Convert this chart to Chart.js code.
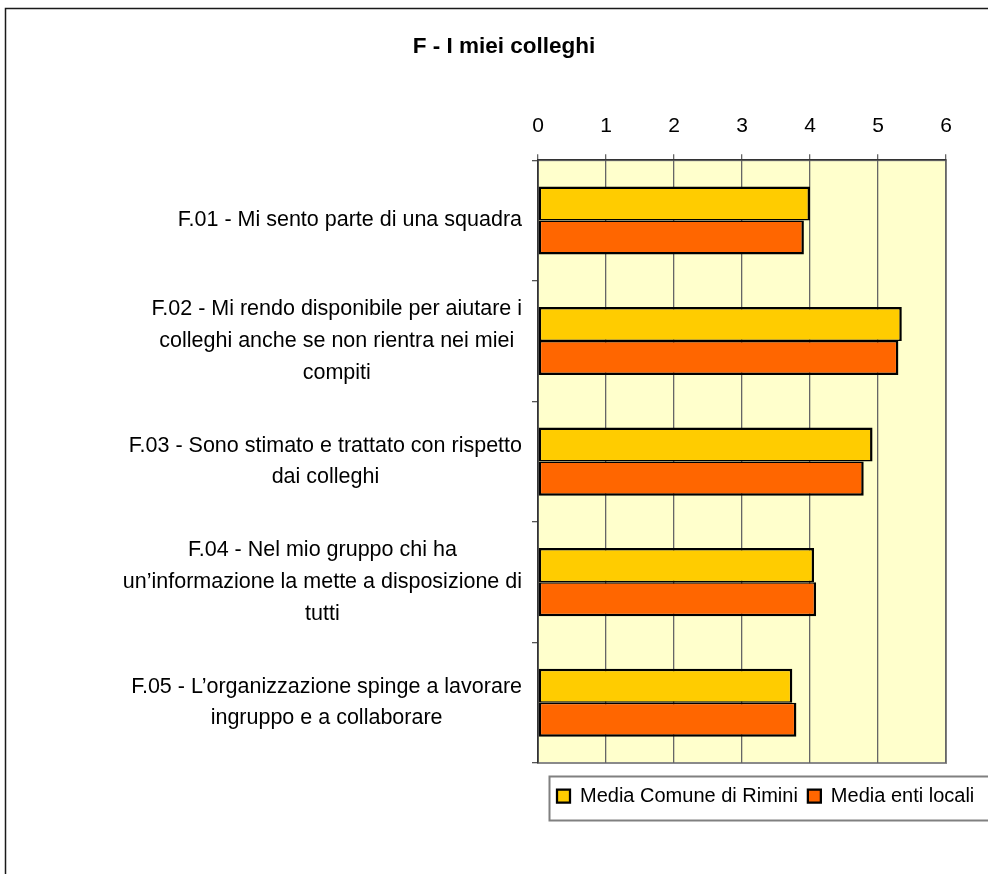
<!DOCTYPE html>
<html>
<head>
<meta charset="utf-8">
<style>
  html, body { margin: 0; padding: 0; background: #ffffff; }
  #wrap { position: relative; width: 988px; height: 874px; }
  canvas { display: block; }
</style>
<script src="https://cdn.jsdelivr.net/npm/chart.js@4/dist/chart.umd.min.js"></script>
</head>
<body>
<div id="wrap"><canvas id="c" width="988" height="874"></canvas></div>
<script>
const chartTitle = "F - I miei colleghi";
const categories = [
  ["F.01 - Mi sento parte di una squadra"],
  ["F.02 - Mi rendo disponibile per aiutare i", "colleghi anche se non rientra nei miei", "compiti"],
  ["F.03 - Sono stimato e trattato con rispetto", "dai colleghi"],
  ["F.04 - Nel mio gruppo chi ha", "un\u2019informazione la mette a disposizione di", "tutti"],
  ["F.05 - L\u2019organizzazione spinge a lavorare", "ingruppo e a collaborare"]
];
const seriesNames = ["Media Comune di Rimini", "Media enti locali"];
const mediaRimini = [4.00, 5.35, 4.92, 4.06, 3.74];
const mediaEntiLocali = [3.91, 5.30, 4.79, 4.09, 3.80];
const xTicks = [0, 1, 2, 3, 4, 5, 6];

const FONT = "'Liberation Sans', Arial, Helvetica, sans-serif";

const decorPlugin = {
  id: 'decor',
  beforeDraw(chart) {
    const ctx = chart.ctx;
    const a = chart.chartArea;
    ctx.save();
    // outer frame (extends beyond the visible page)
    ctx.strokeStyle = '#1a1a1a';
    ctx.lineWidth = 1.5;
    ctx.strokeRect(5.5, 8.5, 1200, 1200);
    // plot background
    ctx.fillStyle = '#FFFFCC';
    ctx.fillRect(a.left, a.top, a.right - a.left, a.bottom - a.top);
    ctx.strokeStyle = '#8a8a8a';
    ctx.lineWidth = 2;
    ctx.strokeRect(a.left, a.top, a.right - a.left, a.bottom - a.top);
    // legend frame
    const lg = chart.legend;
    ctx.strokeStyle = '#808080';
    ctx.lineWidth = 2;
    ctx.strokeRect(lg.left + 2.5, lg.top + 0.5, 600, 44);
    ctx.restore();

    // center each multi-line category label within its own block, right-aligned block
    const sc = chart.scales.y;
    const items = sc.getLabelItems();
    items.forEach(it => {
      if (it._adj) return;
      const lines = Array.isArray(it.label) ? it.label : [it.label];
      ctx.save();
      ctx.font = it.font.string;
      const w = Math.max(...lines.map(l => ctx.measureText(l).width));
      ctx.restore();
      const rx = it.options.translation[0];
      it.options.textAlign = 'center';
      it.options.translation = [rx - w / 2, it.options.translation[1]];
      it._adj = true;
    });
  },
  afterLayout(chart) {
    const lg = chart.legend;
    lg.left = 547; lg.right = 1300; lg.width = lg.right - lg.left;
    lg.top = 776; lg.bottom = 820; lg.height = 44;
  }
};

new Chart(document.getElementById('c'), {
  type: 'bar',
  data: {
    labels: categories,
    datasets: [
      {
        label: seriesNames[0],
        data: mediaRimini,
        backgroundColor: '#FFCC00',
        borderColor: '#000000',
        borderWidth: { top: 2.5, left: 2.5, right: 2.5, bottom: 1.5 },
        borderSkipped: false
      },
      {
        label: seriesNames[1],
        data: mediaEntiLocali,
        backgroundColor: '#FF6600',
        borderColor: '#000000',
        borderWidth: { top: 1.5, left: 2.5, right: 2.5, bottom: 2.5 },
        borderSkipped: false
      }
    ]
  },
  options: {
    indexAxis: 'y',
    responsive: false,
    animation: false,
    categoryPercentage: 0.565,
    barPercentage: 1.0,
    layout: { padding: { left: 62, right: 42, top: 0, bottom: 71 } },
    plugins: {
      title: {
        display: true,
        text: chartTitle,
        color: '#000000',
        font: { family: FONT, size: 22.5, weight: 'bold' },
        padding: { top: 33, bottom: 39 }
      },
      legend: {
        display: true,
        position: 'bottom',
        align: 'start',
        labels: {
          color: '#000000',
          font: { family: FONT, size: 20 },
          boxWidth: 13,
          boxHeight: 13,
          padding: 10
        }
      },
      tooltip: { enabled: false }
    },
    scales: {
      x: {
        position: 'top',
        min: 0,
        max: 6,
        afterBuildTicks(scale) {
          scale.ticks = xTicks.map(v => ({ value: v }));
        },
        ticks: {
          stepSize: 1,
          color: '#000000',
          font: { family: FONT, size: 21 },
          padding: 15
        },
        grid: {
          color: '#666666',
          lineWidth: 1.3,
          drawTicks: true,
          tickLength: 6
        },
        border: { display: true, color: '#333333', width: 1.5 }
      },
      y: {
        afterFit(scale) { scale.width = 476; },
        ticks: {
          color: '#000000',
          font: { family: FONT, size: 21.5, lineHeight: 1.47 },
          crossAlign: 'near',
          padding: 10,
          autoSkip: false
        },
        grid: {
          offset: true,
          drawOnChartArea: false,
          drawTicks: true,
          tickLength: 6,
          color: '#555555',
          lineWidth: 1.3
        },
        border: { display: true, color: '#333333', width: 1.5 }
      }
    }
  },
  plugins: [decorPlugin]
});
</script>
</body>
</html>
